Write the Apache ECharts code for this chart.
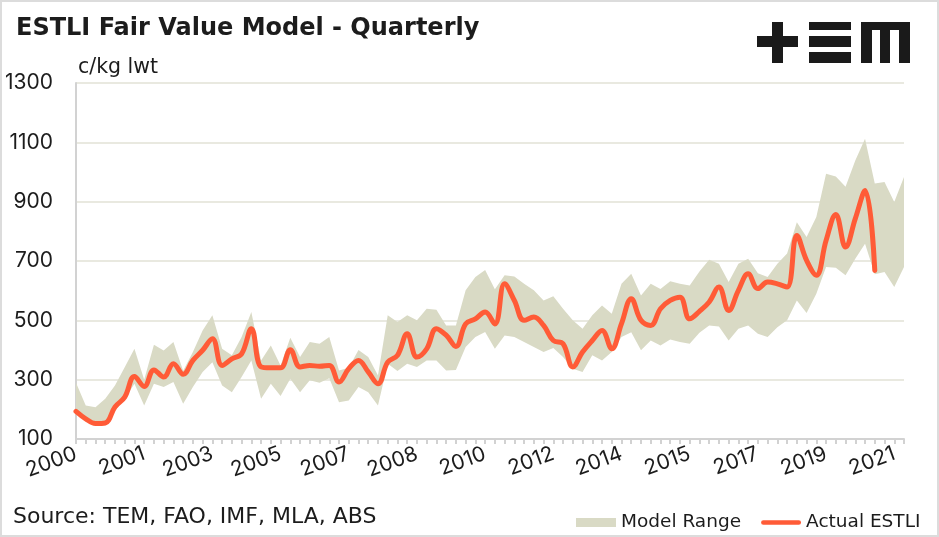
<!DOCTYPE html>
<html>
<head>
<meta charset="utf-8">
<script src="https://cdn.jsdelivr.net/npm/echarts@6/dist/echarts.min.js"></script>
<style>
html,body{margin:0;padding:0;background:#fff;}
#wrap{position:relative;width:939px;height:537px;box-sizing:border-box;border:2px solid #dcdcdc;background:#fff;}
#chart{position:absolute;left:0;top:0;width:939px;height:537px;}
</style>
</head>
<body>
<div id="wrap"></div>
<div id="chart"></div>
<script>
var categories = [
'2000Q1','2000Q2','2000Q3','2000Q4','2001Q1','2001Q2','2001Q3','2001Q4',
'2002Q1','2002Q2','2002Q3','2002Q4','2003Q1','2003Q2','2003Q3','2003Q4',
'2004Q1','2004Q2','2004Q3','2004Q4','2005Q1','2005Q2','2005Q3','2005Q4',
'2006Q1','2006Q2','2006Q3','2006Q4','2007Q1','2007Q2','2007Q3','2007Q4',
'2008Q1','2008Q2','2008Q3','2008Q4','2009Q1','2009Q2','2009Q3','2009Q4',
'2010Q1','2010Q2','2010Q3','2010Q4','2011Q1','2011Q2','2011Q3','2011Q4',
'2012Q1','2012Q2','2012Q3','2012Q4','2013Q1','2013Q2','2013Q3','2013Q4',
'2014Q1','2014Q2','2014Q3','2014Q4','2015Q1','2015Q2','2015Q3','2015Q4',
'2016Q1','2016Q2','2016Q3','2016Q4','2017Q1','2017Q2','2017Q3','2017Q4',
'2018Q1','2018Q2','2018Q3','2018Q4','2019Q1','2019Q2','2019Q3','2019Q4',
'2020Q1','2020Q2','2020Q3','2020Q4','2021Q1','2021Q2'
];

var actualESTLI = [
193,168,152,154,208,241,311,277,333,309,
354,318,365,399,438,348,370,387,472,343,
340,340,401,343,348,345,348,292,337,365,
326,286,359,382,455,376,404,472,450,412,
488,505,528,488,623,567,500,511,483,432,
421,343,393,432,466,404,489,573,500,483,
539,567,578,505,530,562,612,533,601,657,
607,629,623,612,786,702,652,769,857,747,
843,938,668,null,null,null
];

var modelUpper = [
290,213,207,236,280,342,404,300,418,398,
427,330,393,466,517,404,382,444,528,365,
415,348,441,376,427,421,444,331,340,400,
376,314,517,494,517,500,539,536,483,483,
601,646,670,605,652,648,623,601,567,581,
539,500,472,517,550,522,623,657,584,623,
606,632,623,617,665,704,691,629,691,708,
659,646,691,725,831,781,848,994,985,950,
1039,1112,961,966,899,983
];

var modelLower = [
185,165,148,150,196,235,286,213,286,275,
292,219,275,326,359,280,258,309,365,236,
286,245,303,258,298,290,305,224,230,275,
258,213,354,329,354,343,365,365,331,333,
410,444,461,404,449,444,427,410,393,407,
376,337,326,382,365,393,444,460,399,432,
415,435,427,421,458,483,479,432,472,483,
455,444,477,500,567,525,590,680,677,652,
708,758,655,663,612,680
];

var yTicks = {min: 100, max: 1300, interval: 200};

var bandColor = '#D9DAC5';
var lineColor = '#FF5B37';
var textColor = '#1c1c1c';
var textFont = '"DejaVu Sans", "Noto Sans", sans-serif';
var numFont = 'Inter, "Noto Sans", sans-serif';

var bandWidth = modelUpper.map(function (v, i) { return v - modelLower[i]; });

var chart = echarts.init(document.getElementById('chart'), null, {renderer: 'canvas'});

var logoRects = [
  [757, 36, 41, 11],
  [772, 22, 11, 41],
  [809, 22, 42, 8],
  [809, 36, 42, 11],
  [809, 52, 42, 11],
  [861, 22, 49, 8],
  [861, 22, 11, 41],
  [880, 22, 10, 41],
  [899, 22, 11, 41]
];

var option = {
  animation: false,
  title: {
    text: 'ESTLI Fair Value Model - Quarterly',
    left: 11,
    top: 12,
    textStyle: {fontFamily: textFont, fontSize: 24, fontWeight: 'bold', color: textColor}
  },
  legend: {
    left: 571,
    top: 508,
    itemWidth: 40,
    itemHeight: 9,
    itemGap: 20,
    textStyle: {fontFamily: textFont, fontSize: 18.5, color: textColor},
    data: [
      {name: 'Model Range', icon: 'rect', itemStyle: {color: bandColor}},
      {name: 'Actual ESTLI', icon: 'path://M2.5,0 L40.5,0 A2.5,2.5 0 0 1 40.5,5 L2.5,5 A2.5,2.5 0 0 1 2.5,0 Z', itemStyle: {color: lineColor}}
    ]
  },
  grid: {left: 76, right: 35, top: 83, bottom: 98, containLabel: false},
  xAxis: {
    type: 'category',
    data: categories,
    boundaryGap: false,
    axisLine: {show: true, lineStyle: {color: '#d2d2d2', width: 2}},
    axisTick: {show: true, interval: 0, length: 5, lineStyle: {color: '#d2d2d2', width: 2}},
    axisLabel: {
      interval: 6,
      rotate: 20,
      margin: 14,
      fontFamily: numFont,
      fontSize: 21,
      color: textColor,
      formatter: function (v) { return v.substring(0, 4); }
    },
    splitLine: {show: false}
  },
  yAxis: {
    type: 'value',
    min: yTicks.min,
    max: yTicks.max,
    interval: yTicks.interval,
    name: 'c/kg lwt',
    nameLocation: 'end',
    nameGap: 5,
    nameTextStyle: {fontFamily: textFont, fontSize: 20.5, color: textColor, align: 'left', verticalAlign: 'bottom', padding: [0, 0, 0, 2]},
    axisLine: {show: true, lineStyle: {color: '#d2d2d2', width: 2}},
    axisTick: {show: false},
    axisLabel: {
      margin: 23,
      fontFamily: numFont,
      fontSize: 21,
      color: textColor,
      formatter: function (v) { return String(v); }
    },
    splitLine: {show: true, lineStyle: {color: '#e9e9e0', width: 2}}
  },
  series: [
    {
      name: 'lowerBase',
      type: 'line',
      stack: 'band',
      data: modelLower,
      symbol: 'none',
      lineStyle: {opacity: 0},
      silent: true
    },
    {
      name: 'Model Range',
      type: 'line',
      stack: 'band',
      data: bandWidth,
      symbol: 'none',
      itemStyle: {color: bandColor},
      lineStyle: {opacity: 0},
      areaStyle: {color: bandColor, opacity: 1},
      silent: true
    },
    {
      name: 'Actual ESTLI',
      type: 'line',
      data: actualESTLI,
      symbol: 'none',
      smooth: 0.4,
      itemStyle: {color: lineColor},
      lineStyle: {color: lineColor, width: 5, cap: 'round', join: 'round'},
      z: 5
    }
  ],
  graphic: [
    {
      type: 'text',
      left: 13,
      top: 506,
      style: {text: 'Source: TEM, FAO, IMF, MLA, ABS', fontFamily: textFont, fontSize: 22, fill: textColor}
    }
  ].concat(logoRects.map(function (r) {
    return {type: 'rect', shape: {x: r[0], y: r[1], width: r[2], height: r[3]}, style: {fill: '#1a1a1a'}};
  }))
};

chart.setOption(option);
</script>
</body>
</html>
